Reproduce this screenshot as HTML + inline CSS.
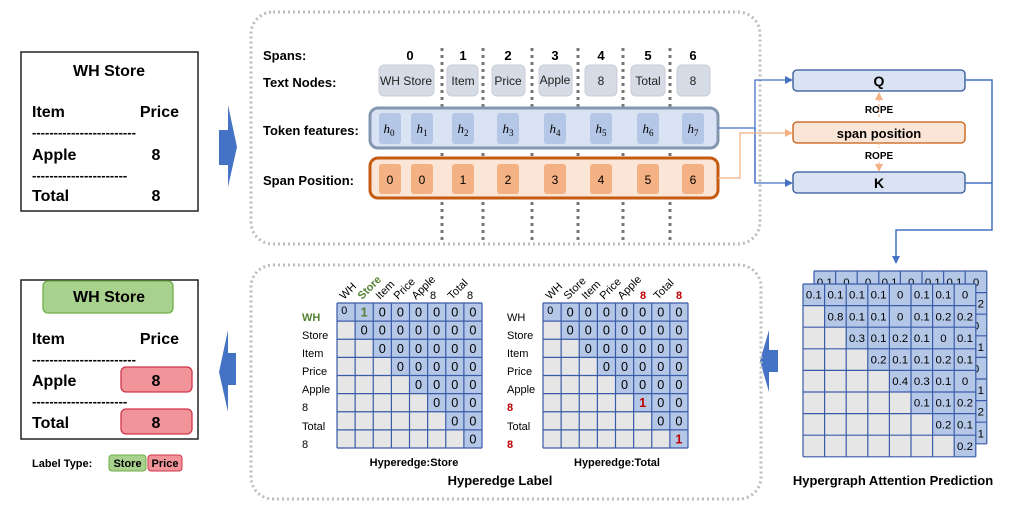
<!DOCTYPE html>
<html><head><meta charset="utf-8"><style>
body{margin:0;background:#fff}
svg{display:block;font-family:"Liberation Sans",Arial,sans-serif}
.b{font-weight:bold}
</style></head><body>
<svg width="1012" height="506" viewBox="0 0 1012 506" xmlns="http://www.w3.org/2000/svg">
<defs>
<g id="grid">
<rect x="0" y="0" width="8" height="8" fill="#e6e6e6"/>
<polygon points="0,0 8,0 8,8 7,8 7,7 6,7 6,6 5,6 5,5 4,5 4,4 3,4 3,3 2,3 2,2 1,2 1,1 0,1" fill="#b4c7e7"/>
<path d="M0 0H8M0 1H8M0 2H8M0 3H8M0 4H8M0 5H8M0 6H8M0 7H8M0 8H8M0 0V8M1 0V8M2 0V8M3 0V8M4 0V8M5 0V8M6 0V8M7 0V8M8 0V8" stroke="#3a5ba8" stroke-width="1.2" vector-effect="non-scaling-stroke" fill="none"/>
</g>
<marker id="ab" markerWidth="8" markerHeight="8" refX="7" refY="4" orient="auto" markerUnits="userSpaceOnUse"><path d="M0,0 L8,4 L0,8z" fill="#4472c4"/></marker>
<marker id="ao" markerWidth="8" markerHeight="8" refX="7" refY="4" orient="auto" markerUnits="userSpaceOnUse"><path d="M0,0 L8,4 L0,8z" fill="#f4b183"/></marker>
</defs>

<!-- top receipt -->
<rect x="21" y="52" width="177" height="159" fill="#fff" stroke="#222" stroke-width="1.5"/>
<g class="b" font-size="16" fill="#000">
<text x="109" y="76" text-anchor="middle">WH Store</text>
<text x="32" y="117">Item</text><text x="179" y="117" text-anchor="end">Price</text>
<text x="32" y="137" font-size="13">------------------------</text>
<text x="32" y="160">Apple</text><text x="156" y="160" text-anchor="middle">8</text>
<text x="32" y="180" font-size="13">----------------------</text>
<text x="32" y="201">Total</text><text x="156" y="201" text-anchor="middle">8</text>
</g>
<polygon points="219,130 228,130 228,105 237,147 228,187 228,165 219,165" fill="#4472c4"/>

<!-- top dotted box -->
<rect x="251" y="12" width="509" height="232" rx="22" fill="none" stroke="#bdbdbd" stroke-width="3" stroke-dasharray="2,3"/>
<g class="b" font-size="13">
<text x="263" y="60">Spans:</text>
<text x="263" y="87">Text Nodes:</text>
<text x="263" y="135">Token features:</text>
<text x="263" y="185">Span Position:</text>
<g text-anchor="middle">
<text x="410" y="60">0</text><text x="463" y="60">1</text><text x="508" y="60">2</text><text x="555" y="60">3</text><text x="601" y="60">4</text><text x="648" y="60">5</text><text x="693" y="60">6</text>
</g></g>
<g stroke="#777" stroke-width="3" stroke-dasharray="3,4">
<line x1="442" y1="48" x2="442" y2="242"/><line x1="483" y1="48" x2="483" y2="242"/><line x1="532" y1="48" x2="532" y2="242"/><line x1="578" y1="48" x2="578" y2="242"/><line x1="623" y1="48" x2="623" y2="242"/><line x1="670" y1="48" x2="670" y2="242"/>
</g>
<g fill="#d6dce5" stroke="#c8ced8">
<rect x="379" y="65" width="55" height="31" rx="5"/><rect x="447" y="65" width="31" height="31" rx="5"/><rect x="492" y="65" width="33" height="31" rx="5"/><rect x="539" y="65" width="33" height="31" rx="5"/><rect x="585" y="65" width="32" height="31" rx="5"/><rect x="631" y="65" width="34" height="31" rx="5"/><rect x="677" y="65" width="33" height="31" rx="5"/>
</g>
<g font-size="12" text-anchor="middle" fill="#222">
<text x="406" y="85">WH Store</text><text x="463" y="85">Item</text><text x="508" y="85">Price</text><text x="555" y="84">Apple</text><text x="601" y="85">8</text><text x="648" y="85">Total</text><text x="693" y="85">8</text>
</g>
<rect x="370" y="108" width="348" height="40" rx="8" fill="#dae3f3" stroke="#8497b0" stroke-width="3"/>
<g fill="#b4c7e7">
<rect x="379" y="113" width="22" height="31" rx="3"/><rect x="411" y="113" width="22" height="31" rx="3"/><rect x="452" y="113" width="22" height="31" rx="3"/><rect x="497" y="113" width="22" height="31" rx="3"/><rect x="544" y="113" width="22" height="31" rx="3"/><rect x="590" y="113" width="22" height="31" rx="3"/><rect x="637" y="113" width="22" height="31" rx="3"/><rect x="682" y="113" width="22" height="31" rx="3"/>
</g>
<g font-family="Liberation Serif,serif" font-style="italic" font-size="13" text-anchor="middle">
<text x="389" y="133">h<tspan font-size="9" dy="3" font-style="normal">0</tspan></text><text x="422" y="133">h<tspan font-size="9" dy="3" font-style="normal">1</tspan></text><text x="463" y="133">h<tspan font-size="9" dy="3" font-style="normal">2</tspan></text><text x="508" y="133">h<tspan font-size="9" dy="3" font-style="normal">3</tspan></text><text x="555" y="133">h<tspan font-size="9" dy="3" font-style="normal">4</tspan></text><text x="601" y="133">h<tspan font-size="9" dy="3" font-style="normal">5</tspan></text><text x="648" y="133">h<tspan font-size="9" dy="3" font-style="normal">6</tspan></text><text x="693" y="133">h<tspan font-size="9" dy="3" font-style="normal">7</tspan></text>
</g>
<rect x="370" y="158" width="348" height="40" rx="8" fill="#fbe5d6" stroke="#c55a11" stroke-width="3"/>
<g fill="#f4b183">
<rect x="379" y="164" width="22" height="30" rx="3"/><rect x="411" y="164" width="22" height="30" rx="3"/><rect x="452" y="164" width="22" height="30" rx="3"/><rect x="497" y="164" width="22" height="30" rx="3"/><rect x="544" y="164" width="22" height="30" rx="3"/><rect x="590" y="164" width="22" height="30" rx="3"/><rect x="637" y="164" width="22" height="30" rx="3"/><rect x="682" y="164" width="22" height="30" rx="3"/>
</g>
<g font-size="12" text-anchor="middle">
<text x="390" y="184">0</text><text x="422" y="184">0</text><text x="463" y="184">1</text><text x="508" y="184">2</text><text x="555" y="184">3</text><text x="601" y="184">4</text><text x="648" y="184">5</text><text x="693" y="184">6</text>
</g>

<!-- Q / K -->
<polyline points="718,128 755,128" stroke="#4472c4" stroke-width="1.3" fill="none"/>
<polyline points="755,183 755,80 792,80" stroke="#4472c4" stroke-width="1.3" fill="none" marker-end="url(#ab)"/>
<polyline points="755,128 755,183 792,183" stroke="#4472c4" stroke-width="1.3" fill="none" marker-end="url(#ab)"/>
<polyline points="718,178 740,178 740,133 792,133" stroke="#f4b183" stroke-width="1.3" fill="none" marker-end="url(#ao)"/>
<rect x="793" y="70" width="172" height="21" rx="4" fill="#dae3f3" stroke="#2f5597" stroke-width="1.3"/>
<rect x="793" y="122" width="172" height="21" rx="4" fill="#fbe5d6" stroke="#c55a11" stroke-width="1.3"/>
<rect x="793" y="172" width="172" height="21" rx="4" fill="#dae3f3" stroke="#2f5597" stroke-width="1.3"/>
<g class="b" text-anchor="middle">
<text x="879" y="86" font-size="14">Q</text>
<text x="879" y="138" font-size="13">span position</text>
<text x="879" y="188" font-size="14">K</text>
<text x="879" y="113" font-size="10">ROPE</text>
<text x="879" y="159" font-size="10">ROPE</text>
</g>
<line x1="879" y1="117" x2="879" y2="93" stroke="#f4b183" stroke-dasharray="3,2" marker-end="url(#ao)"/>
<line x1="879" y1="162" x2="879" y2="171" stroke="#f4b183" stroke-dasharray="3,2" marker-end="url(#ao)"/>
<line x1="879" y1="143" x2="879" y2="148" stroke="#f4b183" stroke-dasharray="2,2"/>
<polyline points="965,80 992,80 992,230 896,230 896,263" stroke="#4472c4" stroke-width="1.5" fill="none" marker-end="url(#ab)"/>
<line x1="965" y1="183" x2="992" y2="183" stroke="#4472c4" stroke-width="1.5"/>

<!-- hypergraph -->
<g transform="translate(814,271) scale(21.6)"><use href="#grid"/>
<g font-size="0.53" text-anchor="middle"><text x="0.5" y="0.7">0.1</text><text x="1.5" y="0.7">0</text><text x="2.5" y="0.7">0</text><text x="3.5" y="0.7">0.1</text><text x="4.5" y="0.7">0</text><text x="5.5" y="0.7">0.1</text><text x="6.5" y="0.7">0.1</text><text x="7.5" y="0.7">0</text>
<text x="7.5" y="1.7">0.2</text><text x="7.5" y="2.7">0</text><text x="7.5" y="3.7">0.1</text><text x="7.5" y="4.7">0</text><text x="7.5" y="5.7">0.1</text><text x="7.5" y="6.7">0.2</text><text x="7.5" y="7.7">0.1</text></g></g>
<g transform="translate(803,284) scale(21.6)"><use href="#grid"/>
<g font-size="0.53" text-anchor="middle">
<text x="0.5" y="0.68">0.1</text><text x="1.5" y="0.68">0.1</text><text x="2.5" y="0.68">0.1</text><text x="3.5" y="0.68">0.1</text><text x="4.5" y="0.68">0</text><text x="5.5" y="0.68">0.1</text><text x="6.5" y="0.68">0.1</text><text x="7.5" y="0.68">0</text>
<text x="1.5" y="1.68">0.8</text><text x="2.5" y="1.68">0.1</text><text x="3.5" y="1.68">0.1</text><text x="4.5" y="1.68">0</text><text x="5.5" y="1.68">0.1</text><text x="6.5" y="1.68">0.2</text><text x="7.5" y="1.68">0.2</text>
<text x="2.5" y="2.68">0.3</text><text x="3.5" y="2.68">0.1</text><text x="4.5" y="2.68">0.2</text><text x="5.5" y="2.68">0.1</text><text x="6.5" y="2.68">0</text><text x="7.5" y="2.68">0.1</text>
<text x="3.5" y="3.68">0.2</text><text x="4.5" y="3.68">0.1</text><text x="5.5" y="3.68">0.1</text><text x="6.5" y="3.68">0.2</text><text x="7.5" y="3.68">0.1</text>
<text x="4.5" y="4.68">0.4</text><text x="5.5" y="4.68">0.3</text><text x="6.5" y="4.68">0.1</text><text x="7.5" y="4.68">0</text>
<text x="5.5" y="5.68">0.1</text><text x="6.5" y="5.68">0.1</text><text x="7.5" y="5.68">0.2</text>
<text x="6.5" y="6.68">0.2</text><text x="7.5" y="6.68">0.1</text>
<text x="7.5" y="7.68">0.2</text>
</g></g>
<text x="893" y="485" class="b" font-size="13" text-anchor="middle">Hypergraph Attention Prediction</text>
<polygon points="778,350 769,350 769,330 760,361 769,392 769,372 778,372" fill="#4472c4"/>

<!-- bottom dotted box -->
<rect x="251" y="265" width="510" height="234" rx="22" fill="none" stroke="#bdbdbd" stroke-width="3" stroke-dasharray="2,3"/>
<g transform="translate(337,303) scale(18.125)"><use href="#grid"/>
<g font-size="0.7" text-anchor="middle">
<text x="0.4" y="0.6" font-size="0.6">0</text><text x="1.5" y="0.75" fill="#548235" font-weight="bold">1</text><text x="2.5" y="0.75">0</text><text x="3.5" y="0.75">0</text><text x="4.5" y="0.75">0</text><text x="5.5" y="0.75">0</text><text x="6.5" y="0.75">0</text><text x="7.5" y="0.75">0</text>
<text x="1.5" y="1.75">0</text><text x="2.5" y="1.75">0</text><text x="3.5" y="1.75">0</text><text x="4.5" y="1.75">0</text><text x="5.5" y="1.75">0</text><text x="6.5" y="1.75">0</text><text x="7.5" y="1.75">0</text>
<text x="2.5" y="2.75">0</text><text x="3.5" y="2.75">0</text><text x="4.5" y="2.75">0</text><text x="5.5" y="2.75">0</text><text x="6.5" y="2.75">0</text><text x="7.5" y="2.75">0</text>
<text x="3.5" y="3.75">0</text><text x="4.5" y="3.75">0</text><text x="5.5" y="3.75">0</text><text x="6.5" y="3.75">0</text><text x="7.5" y="3.75">0</text>
<text x="4.5" y="4.75">0</text><text x="5.5" y="4.75">0</text><text x="6.5" y="4.75">0</text><text x="7.5" y="4.75">0</text>
<text x="5.5" y="5.75">0</text><text x="6.5" y="5.75">0</text><text x="7.5" y="5.75">0</text>
<text x="6.5" y="6.75">0</text><text x="7.5" y="6.75">0</text>
<text x="7.5" y="7.75">0</text>
</g></g>
<g transform="translate(543,303) scale(18.125)"><use href="#grid"/>
<g font-size="0.7" text-anchor="middle">
<text x="0.4" y="0.6" font-size="0.6">0</text><text x="1.5" y="0.75">0</text><text x="2.5" y="0.75">0</text><text x="3.5" y="0.75">0</text><text x="4.5" y="0.75">0</text><text x="5.5" y="0.75">0</text><text x="6.5" y="0.75">0</text><text x="7.5" y="0.75">0</text>
<text x="1.5" y="1.75">0</text><text x="2.5" y="1.75">0</text><text x="3.5" y="1.75">0</text><text x="4.5" y="1.75">0</text><text x="5.5" y="1.75">0</text><text x="6.5" y="1.75">0</text><text x="7.5" y="1.75">0</text>
<text x="2.5" y="2.75">0</text><text x="3.5" y="2.75">0</text><text x="4.5" y="2.75">0</text><text x="5.5" y="2.75">0</text><text x="6.5" y="2.75">0</text><text x="7.5" y="2.75">0</text>
<text x="3.5" y="3.75">0</text><text x="4.5" y="3.75">0</text><text x="5.5" y="3.75">0</text><text x="6.5" y="3.75">0</text><text x="7.5" y="3.75">0</text>
<text x="4.5" y="4.75">0</text><text x="5.5" y="4.75">0</text><text x="6.5" y="4.75">0</text><text x="7.5" y="4.75">0</text>
<text x="5.5" y="5.75" fill="#c00000" font-weight="bold">1</text><text x="6.5" y="5.75">0</text><text x="7.5" y="5.75">0</text>
<text x="6.5" y="6.75">0</text><text x="7.5" y="6.75">0</text>
<text x="7.5" y="7.75" fill="#c00000" font-weight="bold">1</text>
</g></g>
<g font-size="11">
<text x="302" y="321" fill="#548235" class="b">WH</text><text x="302" y="339">Store</text><text x="302" y="357">Item</text><text x="302" y="375">Price</text><text x="302" y="393">Apple</text><text x="302" y="411">8</text><text x="302" y="430">Total</text><text x="302" y="448">8</text>
<text x="507" y="321">WH</text><text x="507" y="339">Store</text><text x="507" y="357">Item</text><text x="507" y="375">Price</text><text x="507" y="393">Apple</text><text x="507" y="411" fill="#c00000" class="b">8</text><text x="507" y="430">Total</text><text x="507" y="448" fill="#c00000" class="b">8</text>
</g>
<g font-size="11">
<text transform="translate(344,300) rotate(-45)">WH</text>
<text transform="translate(362,300) rotate(-45)" fill="#548235" class="b">Store</text>
<text transform="translate(380,300) rotate(-45)">Item</text>
<text transform="translate(398,300) rotate(-45)">Price</text>
<text transform="translate(416,300) rotate(-45)">Apple</text>
<text x="430" y="299">8</text>
<text transform="translate(452,300) rotate(-45)">Total</text>
<text x="467" y="299">8</text>
<text transform="translate(550,300) rotate(-45)">WH</text>
<text transform="translate(568,300) rotate(-45)">Store</text>
<text transform="translate(586,300) rotate(-45)">Item</text>
<text transform="translate(604,300) rotate(-45)">Price</text>
<text transform="translate(622,300) rotate(-45)">Apple</text>
<text x="640" y="299" fill="#c00000" class="b">8</text>
<text transform="translate(658,300) rotate(-45)">Total</text>
<text x="676" y="299" fill="#c00000" class="b">8</text>
</g>
<g class="b" text-anchor="middle">
<text x="414" y="466" font-size="11">Hyperedge:Store</text>
<text x="617" y="466" font-size="11">Hyperedge:Total</text>
<text x="500" y="485" font-size="13">Hyperedge Label</text>
</g>
<polygon points="236,353 228,353 228,330 219,372 228,412 228,385 236,385" fill="#4472c4"/>

<!-- bottom receipt -->
<rect x="21" y="280" width="177" height="159" fill="#fff" stroke="#222" stroke-width="1.5"/>
<rect x="43" y="281" width="130" height="32" rx="5" fill="#a9d18e" stroke="#70ad47" stroke-width="1.3"/>
<rect x="121" y="367" width="71" height="25" rx="5" fill="#f0949a" stroke="#d0344a" stroke-width="1.3"/>
<rect x="121" y="409" width="71" height="25" rx="5" fill="#f0949a" stroke="#d0344a" stroke-width="1.3"/>
<g class="b" font-size="16" fill="#000">
<text x="109" y="302" text-anchor="middle">WH Store</text>
<text x="32" y="344">Item</text><text x="179" y="344" text-anchor="end">Price</text>
<text x="32" y="364" font-size="13">------------------------</text>
<text x="32" y="386">Apple</text><text x="156" y="386" text-anchor="middle">8</text>
<text x="32" y="406" font-size="13">----------------------</text>
<text x="32" y="428">Total</text><text x="156" y="428" text-anchor="middle">8</text>
</g>
<rect x="109" y="455" width="37" height="16" rx="3" fill="#a9d18e" stroke="#70ad47"/>
<rect x="148" y="455" width="34" height="16" rx="3" fill="#f0949a" stroke="#d0344a"/>
<g class="b" font-size="11">
<text x="32" y="467">Label Type:</text>
<text x="127.5" y="467" text-anchor="middle">Store</text>
<text x="165" y="467" text-anchor="middle">Price</text>
</g>
</svg>
</body></html>
